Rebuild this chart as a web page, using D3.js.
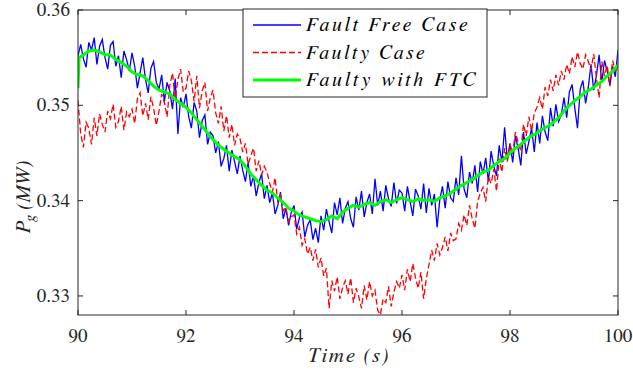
<!DOCTYPE html>
<html>
<head>
<meta charset="utf-8">
<script src="https://cdn.jsdelivr.net/npm/d3@7"></script>
<style>
  body { margin: 0; background: #fff; }
</style>
</head>
<body>
<script>
// sample step of the noisy series (s), starting at 90 s
let sampleStep = 0.05

// fault free case, one row = 0.5 s
let faultFree = [
  0.3552,0.3564,0.3549,0.3540,0.3566,0.3558,0.3571,0.3543,0.3562,0.3569,
  0.3550,0.3538,0.3563,0.3567,0.3541,0.3552,0.3529,0.3557,0.3548,0.3536,
  0.3555,0.3541,0.3518,0.3534,0.3550,0.3527,0.3513,0.3539,0.3546,0.3524,
  0.3517,0.3532,0.3504,0.3524,0.3515,0.3496,0.3528,0.3470,0.3508,0.3498,
  0.3512,0.3488,0.3476,0.3503,0.3494,0.3466,0.3484,0.3490,0.3459,0.3472,
  0.3468,0.3450,0.3462,0.3436,0.3444,0.3458,0.3431,0.3453,0.3441,0.3428,
  0.3447,0.3432,0.3420,0.3440,0.3415,0.3426,0.3405,0.3419,0.3428,0.3402,
  0.3416,0.3398,0.3408,0.3386,0.3395,0.3409,0.3381,0.3392,0.3374,0.3388,
  0.3395,0.3370,0.3382,0.3388,0.3362,0.3374,0.3380,0.3359,0.3371,0.3356,
  0.3384,0.3369,0.3391,0.3378,0.3366,0.3398,0.3385,0.3403,0.3376,0.3392,
  0.3399,0.3381,0.3372,0.3404,0.3390,0.3410,0.3383,0.3398,0.3407,0.3386,
  0.3423,0.3395,0.3410,0.3389,0.3416,0.3402,0.3394,0.3419,0.3397,0.3411,
  0.3408,0.3389,0.3415,0.3399,0.3384,0.3412,0.3405,0.3391,0.3418,0.3387,
  0.3413,0.3395,0.3407,0.3372,0.3401,0.3415,0.3392,0.3420,0.3403,0.3399,
  0.3424,0.3406,0.3447,0.3412,0.3403,0.3430,0.3418,0.3437,0.3409,0.3441,
  0.3428,0.3445,0.3420,0.3452,0.3436,0.3426,0.3458,0.3440,0.3477,0.3443,
  0.3460,0.3440,0.3468,0.3455,0.3437,0.3472,0.3449,0.3462,0.3476,0.3451,
  0.3482,0.3460,0.3489,0.3472,0.3463,0.3497,0.3478,0.3501,0.3483,0.3490,
  0.3508,0.3487,0.3514,0.3522,0.3497,0.3476,0.3517,0.3526,0.3502,0.3519,
  0.3543,0.3516,0.3531,0.3553,0.3524,0.3547,0.3536,0.3521,0.3541,0.3530,
  0.3558
]

// faulty case
let faulty = [
  0.3505,0.3470,0.3456,0.3482,0.3476,0.3459,0.3487,0.3468,0.3491,0.3480,
  0.3472,0.3494,0.3486,0.3501,0.3477,0.3483,0.3499,0.3474,0.3493,0.3488,
  0.3496,0.3481,0.3507,0.3513,0.3489,0.3502,0.3485,0.3509,0.3497,0.3479,
  0.3494,0.3512,0.3503,0.3488,0.3521,0.3534,0.3507,0.3527,0.3538,0.3514,
  0.3518,0.3536,0.3526,0.3504,0.3531,0.3497,0.3515,0.3524,0.3494,0.3508,
  0.3516,0.3492,0.3481,0.3499,0.3473,0.3489,0.3466,0.3480,0.3458,0.3470,
  0.3465,0.3451,0.3460,0.3438,0.3447,0.3455,0.3431,0.3442,0.3427,0.3436,
  0.3430,0.3418,0.3409,0.3424,0.3398,0.3406,0.3389,0.3393,0.3378,0.3383,
  0.3385,0.3365,0.3372,0.3353,0.3360,0.3344,0.3351,0.3337,0.3349,0.3330,
  0.3340,0.3321,0.3329,0.3287,0.3316,0.3305,0.3320,0.3297,0.3309,0.3316,
  0.3302,0.3319,0.3293,0.3308,0.3299,0.3287,0.3311,0.3296,0.3315,0.3300,
  0.3306,0.3285,0.3280,0.3297,0.3293,0.3310,0.3289,0.3304,0.3315,0.3308,
  0.3322,0.3306,0.3328,0.3315,0.3334,0.3319,0.3308,0.3325,0.3297,0.3318,
  0.3333,0.3348,0.3337,0.3355,0.3343,0.3351,0.3362,0.3347,0.3366,0.3358,
  0.3360,0.3376,0.3369,0.3385,0.3374,0.3395,0.3381,0.3371,0.3399,0.3408,
  0.3414,0.3399,0.3425,0.3418,0.3433,0.3410,0.3444,0.3430,0.3455,0.3441,
  0.3459,0.3449,0.3472,0.3461,0.3452,0.3480,0.3468,0.3488,0.3473,0.3492,
  0.3498,0.3508,0.3496,0.3519,0.3510,0.3527,0.3515,0.3532,0.3521,0.3536,
  0.3527,0.3543,0.3533,0.3551,0.3540,0.3556,0.3544,0.3538,0.3553,0.3546,
  0.3537,0.3554,0.3529,0.3508,0.3546,0.3531,0.3542,0.3520,0.3547,0.3536,
  0.3540
]

// faulty with FTC (smooth), with its own time stamps
let ftcTime = [90, 90.02, 90.1, 90.2, 90.3, 90.4, 90.5, 90.6, 90.7, 90.8, 90.9,
  91, 91.1, 91.2, 91.3, 91.4, 91.5, 91.6, 91.7, 91.8, 91.9,
  92, 92.1, 92.2, 92.3, 92.4, 92.5, 92.6, 92.7, 92.8, 92.9,
  93, 93.1, 93.2, 93.3, 93.4, 93.5, 93.6, 93.7, 93.8, 93.9,
  94, 94.1, 94.2, 94.3, 94.4, 94.5, 94.6, 94.7, 94.8, 94.9,
  95, 95.1, 95.2, 95.3, 95.4, 95.5, 95.6, 95.7, 95.8, 95.9,
  96, 96.1, 96.2, 96.3, 96.4, 96.5, 96.6, 96.7, 96.8, 96.9,
  97, 97.1, 97.2, 97.3, 97.4, 97.5, 97.6, 97.7, 97.8, 97.9,
  98, 98.1, 98.2, 98.3, 98.4, 98.5, 98.6, 98.7, 98.8, 98.9,
  99, 99.1, 99.2, 99.3, 99.4, 99.5, 99.6, 99.7, 99.8, 99.9, 100]
let ftc = [0.3518, 0.3550, 0.3553, 0.3557, 0.3558, 0.3556, 0.3553, 0.3553, 0.3548, 0.3545, 0.3541,
  0.3535, 0.3532, 0.3531, 0.3526, 0.3520, 0.3516, 0.3514, 0.3512, 0.3506, 0.3502,
  0.3498, 0.3492, 0.3485, 0.3478, 0.3471, 0.3464, 0.3458, 0.3454, 0.3450, 0.3446,
  0.3443, 0.3436, 0.3428, 0.3422, 0.3416, 0.3411, 0.3408, 0.3403, 0.3398, 0.3392,
  0.3389, 0.3385, 0.3383, 0.3381, 0.3379, 0.3378, 0.3380, 0.3384, 0.3381, 0.3388,
  0.3392, 0.3395, 0.3393, 0.3396, 0.3398, 0.3395, 0.3399, 0.3401, 0.3398, 0.3401,
  0.3403, 0.3401, 0.3399, 0.3402, 0.3400, 0.3401, 0.3399, 0.3403, 0.3405, 0.3408,
  0.3412, 0.3416, 0.3419, 0.3422, 0.3426, 0.3430, 0.3432, 0.3437, 0.3441, 0.3444,
  0.3450, 0.3455, 0.3459, 0.3464, 0.3468, 0.3471, 0.3475, 0.3478, 0.3482, 0.3487,
  0.3494, 0.3500, 0.3505, 0.3509, 0.3514, 0.3517, 0.3521, 0.3525, 0.3531, 0.3536, 0.3542]

let xTicks = [90, 92, 94, 96, 98, 100]
let yTicks = [0.33, 0.34, 0.35, 0.36]
let legendNames = ['Fault Free Case', 'Faulty Case', 'Faulty with FTC']

// FreeSerif has both upright and italic faces here
let serif = 'FreeSerif'

function drawChart() {
  let width = 633, height = 375
  let margin = {left: 78, right: 15, top: 10, bottom: 60}

  let svg = d3.select('body').append('svg')
    .attr('width', width)
    .attr('height', height)
    .attr('font-family', serif)

  let x = d3.scaleLinear().domain([90, 100]).range([margin.left, width - margin.right])
  let y = d3.scaleLinear().domain([0.328, 0.36]).range([height - margin.bottom, margin.top])

  svg.append('clipPath').attr('id', 'plotClip')
    .append('rect')
    .attr('x', x(90)).attr('y', y(0.36))
    .attr('width', x(100) - x(90)).attr('height', y(0.328) - y(0.36))

  let line = d3.line().x(d => x(d[0])).y(d => y(d[1]))
  let plot = svg.append('g').attr('clip-path', 'url(#plotClip)')

  // noisy series, sampled every sampleStep seconds
  let freePts = faultFree.map((v, i) => [90 + i * sampleStep, v])
  let faultyPts = faulty.map((v, i) => [90 + i * sampleStep, v])
  let ftcPts = ftc.map((v, i) => [ftcTime[i], v])

  plot.append('path').datum(freePts)
    .attr('d', line)
    .attr('fill', 'none')
    .attr('stroke', '#0000ff')
    .attr('stroke-width', 1.3)

  plot.append('path').datum(faultyPts)
    .attr('d', line)
    .attr('fill', 'none')
    .attr('stroke', '#ff0000')
    .attr('stroke-width', 1.3)
    .attr('stroke-dasharray', '6,3')

  plot.append('path').datum(ftcPts)
    .attr('d', line)
    .attr('fill', 'none')
    .attr('stroke', '#00ff00')
    .attr('stroke-width', 3)
    .attr('stroke-linejoin', 'round')

  // axes, ticks inward on all sides (box on)
  let axisColor = '#262626'
  svg.append('rect')
    .attr('x', x(90)).attr('y', y(0.36))
    .attr('width', x(100) - x(90)).attr('height', y(0.328) - y(0.36))
    .attr('fill', 'none')
    .attr('stroke', axisColor)
    .attr('stroke-width', 1)

  let tickLen = 5
  xTicks.forEach(t => {
    svg.append('line')
      .attr('x1', x(t)).attr('x2', x(t))
      .attr('y1', y(0.328)).attr('y2', y(0.328) - tickLen)
      .attr('stroke', axisColor)
    svg.append('line')
      .attr('x1', x(t)).attr('x2', x(t))
      .attr('y1', y(0.36)).attr('y2', y(0.36) + tickLen)
      .attr('stroke', axisColor)
    svg.append('text')
      .attr('x', x(t))
      .attr('y', 342)
      .attr('text-anchor', 'middle')
      .attr('fill', axisColor)
      .style('font-size', '19px')
      .text(t)
  })
  yTicks.forEach(t => {
    svg.append('line')
      .attr('x1', x(90)).attr('x2', x(90) + tickLen)
      .attr('y1', y(t)).attr('y2', y(t))
      .attr('stroke', axisColor)
    svg.append('line')
      .attr('x1', x(100)).attr('x2', x(100) - tickLen)
      .attr('y1', y(t)).attr('y2', y(t))
      .attr('stroke', axisColor)
    svg.append('text')
      .attr('x', 70)
      .attr('y', y(t) + 6)
      .attr('text-anchor', 'end')
      .attr('fill', axisColor)
      .style('font-size', '19px')
      .text(d3.format('.2f')(t))
  })

  // axis labels
  svg.append('text')
    .attr('x', x(95))
    .attr('y', 362)
    .attr('text-anchor', 'middle')
    .attr('textLength', 81)
    .attr('lengthAdjust', 'spacing')
    .attr('fill', axisColor)
    .style('font-size', '21px')
    .style('font-style', 'italic')
    .text('Time (s)')

  let yLab = svg.append('text')
    .attr('transform', 'translate(30,197) rotate(-90)')
    .attr('text-anchor', 'middle')
    .attr('fill', axisColor)
    .style('font-size', '21px')
    .style('font-style', 'italic')
  yLab.append('tspan').text('P')
  yLab.append('tspan').attr('dy', 5).style('font-size', '15px').text('g')
  yLab.append('tspan').attr('dy', -5).text(' (MW)')

  // legend
  let legend = svg.append('g')
  legend.append('rect')
    .attr('x', 243).attr('y', 9)
    .attr('width', 244).attr('height', 88)
    .attr('fill', '#fff')
    .attr('stroke', axisColor)
    .attr('stroke-width', 1)

  let legendStyles = [
    {color: '#0000ff', width: 1.3, dash: null, textLen: 161},
    {color: '#ff0000', width: 1.3, dash: '6,3', textLen: 118},
    {color: '#00ff00', width: 3, dash: null, textLen: 169}
  ]
  legendNames.forEach((name, i) => {
    let ly = 25 + i * 27.5
    let st = legendStyles[i]
    legend.append('line')
      .attr('x1', 253).attr('x2', 301)
      .attr('y1', ly).attr('y2', ly)
      .attr('stroke', st.color)
      .attr('stroke-width', st.width)
      .attr('stroke-dasharray', st.dash)
    legend.append('text')
      .attr('x', 306)
      .attr('y', ly + 6)
      .attr('textLength', st.textLen)
      .attr('lengthAdjust', 'spacing')
      .attr('fill', '#000')
      .style('font-size', '20px')
      .style('font-style', 'italic')
      .text(name)
  })
}

drawChart()
</script>
</body>
</html>
